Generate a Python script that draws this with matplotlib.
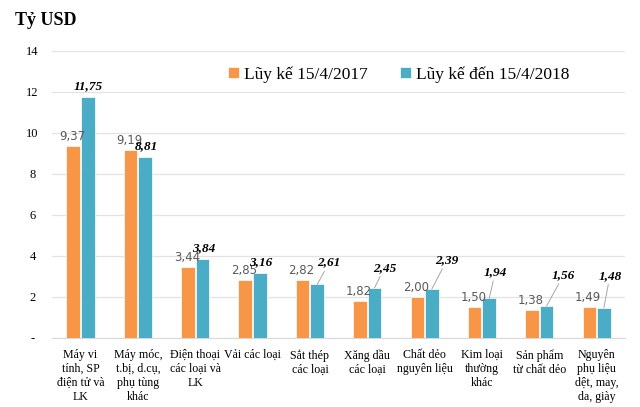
import numpy as np
import matplotlib
matplotlib.use('Agg')
import matplotlib.pyplot as plt

# dữ liệu
categories = [
    'Máy vi\ntính, SP\nđiện tử và\nLK',
    'Máy móc,\nt.bị, d.cụ,\nphụ tùng\nkhác',
    'Điện thoại\ncác loại và\nLK',
    'Vải các loại',
    'Sắt thép\ncác loại',
    'Xăng dầu\ncác loại',
    'Chất dẻo\nnguyên liệu',
    'Kim loại\nthường\nkhác',
    'Sản phẩm\ntừ chất dẻo',
    'Nguyên\nphụ liệu\ndệt, may,\nda, giày',
]
val_2017 = [9.37, 9.19, 3.44, 2.85, 2.82, 1.82, 2.00, 1.50, 1.38, 1.49]
val_2018 = [11.75, 8.81, 3.84, 3.16, 2.61, 2.45, 2.39, 1.94, 1.56, 1.48]
series_names = ['Lũy kế 15/4/2017', 'Lũy kế đến 15/4/2018']
y_ticks = [0, 2, 4, 6, 8, 10, 12, 14]
y_ticklabels = ['-', '2', '4', '6', '8', '10', '12', '14']

ORANGE = '#F79646'
TEAL = '#4BACC6'
SERIF = 'Liberation Serif'

fig = plt.figure(figsize=(6.4, 4.07), dpi=100)
ax = fig.add_axes([0.081, 0.1695, 0.896, 0.7055])

x = np.arange(len(categories))
w = 0.235
gap = 0.02
b1 = ax.bar(x - w / 2 - gap / 2, val_2017, w, color=ORANGE, edgecolor='white', linewidth=0.5,
            label=series_names[0], zorder=3)
b2 = ax.bar(x + w / 2 + gap / 2, val_2018, w, color=TEAL, edgecolor='white', linewidth=0.5,
            label=series_names[1], zorder=3)

def fmt(v):
    return f'{v:.2f}'.replace('.', ',')

# nhãn 2017: chữ xám thường
for rect, v in zip(b1, val_2017):
    ax.annotate(fmt(v), (rect.get_x() + rect.get_width() / 2, v),
                xytext=(-1, 3), textcoords='offset pixels',
                ha='center', va='bottom', fontsize=8.5, color='#595959',
                family='DejaVu Sans')

# nhãn 2018: đậm nghiêng, một số có đường dẫn
offsets_2018 = [(0, 5), (1, 5), (1, 5), (1, 5), (12, 16), (10, 14), (15, 23),
                (6, 20), (17, 25), (6, 26)]
for i, (rect, v) in enumerate(zip(b2, val_2018)):
    dx, dy = offsets_2018[i]
    cx = rect.get_x() + rect.get_width() / 2
    props = None
    if i >= 4:
        props = dict(arrowstyle='-', color='#A6A6A6', lw=0.7, shrinkA=0, shrinkB=0)
    ax.annotate(fmt(v), (cx, v), xytext=(dx, dy), textcoords='offset pixels',
                ha='center', va='bottom', fontsize=9.5, fontweight='bold',
                fontstyle='italic', family=SERIF, color='black', arrowprops=props)

ax.set_xlim(-0.5, len(categories) - 0.5)
ax.set_ylim(0, 14)
ax.set_yticks(y_ticks)
ax.set_yticklabels(y_ticklabels, family=SERIF, fontsize=9)
ax.set_xticks(x)
ax.set_xticklabels(categories, family=SERIF, fontsize=8.6, linespacing=1.22)
ax.tick_params(axis='both', length=0)
ax.tick_params(axis='x', pad=8)
ax.tick_params(axis='y', pad=14)
for lbl in ax.get_yticklabels():
    lbl.set_horizontalalignment('center')

ax.grid(axis='y', color='#E3E3E3', linewidth=0.9, zorder=0)
for s in ['top', 'right', 'left']:
    ax.spines[s].set_visible(False)
ax.spines['bottom'].set_color('#D9D9D9')

leg = ax.legend(loc='upper center', bbox_to_anchor=(0.605, 1.0), ncol=2, frameon=False,
                prop={'family': SERIF, 'size': 12.5}, handlelength=0.6, handleheight=0.6,
                handletextpad=0.3, columnspacing=1.9)

fig.text(0.024, 0.95, 'Tỷ USD', family=SERIF, fontsize=13, fontweight='bold',
         ha='left', va='center')

fig.savefig('out.png', dpi=100, facecolor='white')
